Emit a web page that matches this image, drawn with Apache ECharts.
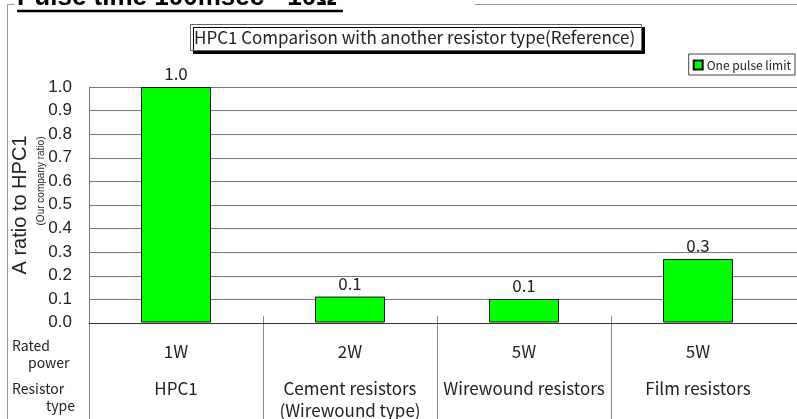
<!DOCTYPE html>
<html>
<head>
<meta charset="utf-8">
<script src="https://cdn.jsdelivr.net/npm/echarts@6/dist/echarts.min.js"></script>
<style>
  html, body { margin: 0; padding: 0; background: #fff; }
  #chart { width: 797px; height: 419px; }
</style>
</head>
<body>
<div id="chart"></div>
<script>
const categories = ['HPC1', 'Cement resistors\n(Wirewound type)', 'Wirewound resistors', 'Film resistors']
const ratedPower = ['1W', '2W', '5W', '5W']
const onePulseLimit = [1.0, 0.11, 0.10, 0.27]
const yMin = 0
const yMax = 1
const yStep = 0.1

const jp = '"Noto Sans CJK JP", "Noto Sans", sans-serif'
const sans = '"Liberation Sans", Arial, sans-serif'
const gridColor = '#777'

const myChart = echarts.init(document.getElementById('chart'))

const option = {
  animation: false,
  backgroundColor: '#fff',
  textStyle: { fontFamily: jp, color: '#222' },
  title: {
    text: 'HPC1 Comparison with another resistor type(Reference)',
    left: 190,
    top: 24,
    padding: [5, 6, 5, 4],
    backgroundColor: '#fff',
    borderColor: '#666',
    borderWidth: 1,
    shadowColor: '#000',
    shadowBlur: 0,
    shadowOffsetX: 3,
    shadowOffsetY: 3,
    textStyle: { fontFamily: jp, fontSize: 17, fontWeight: 'normal', color: '#222' }
  },
  legend: {
    right: 2,
    top: 54,
    orient: 'vertical',
    padding: [5, 4, 4, 4],
    borderColor: '#444',
    borderWidth: 1,
    itemWidth: 9,
    itemHeight: 9,
    itemGap: 4,
    icon: 'rect',
    textStyle: { fontFamily: jp, fontSize: 12, color: '#222', padding: [0, 0, 0, -1] },
    data: ['One pulse limit']
  },
  grid: [
    // background lines, run to the right edge
    { left: 89, right: 0, top: 87, bottom: 96 },
    // bars
    { left: 89, right: 12, top: 87, bottom: 96 },
    // table dividers below the axis
    { left: 89, right: 12, top: 316, bottom: 0 }
  ],
  xAxis: [
    {
      gridIndex: 0,
      type: 'category',
      data: categories,
      axisLine: { show: true, lineStyle: { color: '#333', width: 1 } },
      axisTick: { show: false },
      axisLabel: { show: false }
    },
    {
      gridIndex: 1,
      type: 'category',
      data: categories,
      axisLine: { show: false },
      axisTick: { show: false },
      axisLabel: {
        margin: 3,
        interval: 0,
        formatter: (val, i) => '{p|' + ratedPower[i] + '}\n{n|' + val + '}',
        rich: {
          p: { fontFamily: jp, fontSize: 17, color: '#222', lineHeight: 52 },
          n: { fontFamily: jp, fontSize: 17, color: '#222', lineHeight: 22 }
        }
      }
    },
    {
      gridIndex: 2,
      type: 'category',
      data: categories,
      axisLine: { show: false },
      axisTick: { show: false },
      axisLabel: { show: false },
      splitLine: {
        show: true,
        showMinLine: true,
        showMaxLine: false,
        lineStyle: { color: '#888', width: 1 }
      }
    }
  ],
  yAxis: [
    {
      gridIndex: 0,
      type: 'value',
      min: yMin,
      max: yMax,
      interval: yStep,
      axisLine: { show: true, lineStyle: { color: gridColor } },
      axisTick: { show: false },
      axisLabel: { show: false },
      splitLine: { show: true, lineStyle: { color: gridColor, width: 1 } }
    },
    {
      gridIndex: 1,
      type: 'value',
      min: yMin,
      max: yMax,
      interval: yStep,
      axisLine: { show: false },
      axisTick: { show: false },
      splitLine: { show: false },
      axisLabel: {
        margin: 17,
        fontFamily: sans,
        fontSize: 17,
        color: '#222',
        formatter: v => v.toFixed(1)
      }
    },
    { gridIndex: 2, type: 'value', show: false }
  ],
  series: [
    {
      name: 'One pulse limit',
      type: 'bar',
      xAxisIndex: 1,
      yAxisIndex: 1,
      data: onePulseLimit,
      barWidth: 70,
      itemStyle: { color: '#00ff00', borderColor: '#111', borderWidth: 1 },
      label: {
        show: true,
        position: 'top',
        distance: 5,
        fontFamily: jp,
        fontSize: 17,
        color: '#222',
        formatter: p => p.value.toFixed(1)
      }
    }
  ],
  graphic: [
    // outer frame
    { type: 'line', shape: { x1: 7.5, y1: 4.5, x2: 7.5, y2: 419 }, style: { stroke: '#999', lineWidth: 1 } },
    { type: 'line', shape: { x1: 7.5, y1: 4.5, x2: 14, y2: 4.5 }, style: { stroke: '#999', lineWidth: 1 } },
    { type: 'line', shape: { x1: 475, y1: 4.5, x2: 797, y2: 4.5 }, style: { stroke: '#999', lineWidth: 1 } },
    // heading, cut off at the top
    {
      type: 'text',
      x: 17,
      y: -2,
      style: {
        text: 'Pulse time 100msec - 10Ω',
        font: 'bold 26px "Liberation Sans", Arial, sans-serif',
        fill: '#000',
        verticalAlign: 'middle'
      }
    },
    { type: 'line', shape: { x1: 17, y1: 11, x2: 343, y2: 11 }, style: { stroke: '#000', lineWidth: 2.5 } },
    // y axis name
    {
      type: 'text',
      x: 20,
      y: 205,
      rotation: Math.PI / 2,
      style: {
        text: 'A ratio to HPC1',
        font: '20px "Liberation Sans", Arial, sans-serif',
        fill: '#222',
        align: 'center',
        verticalAlign: 'middle'
      }
    },
    {
      type: 'text',
      x: 41,
      y: 181,
      rotation: Math.PI / 2,
      style: {
        text: '(Our company ratio)',
        font: '10px "Liberation Sans", Arial, sans-serif',
        fill: '#222',
        align: 'center',
        verticalAlign: 'middle'
      }
    },
    // row headers of the table
    { type: 'text', x: 12, y: 346, style: { text: 'Rated', font: '14px ' + jp, fill: '#222', verticalAlign: 'middle' } },
    { type: 'text', x: 28, y: 363, style: { text: 'power', font: '14px ' + jp, fill: '#222', verticalAlign: 'middle' } },
    { type: 'text', x: 12, y: 389, style: { text: 'Resistor', font: '14px ' + jp, fill: '#222', verticalAlign: 'middle' } },
    { type: 'text', x: 46, y: 406, style: { text: 'type', font: '14px ' + jp, fill: '#222', verticalAlign: 'middle' } }
  ]
}

myChart.setOption(option)
window.addEventListener('resize', () => myChart.resize())
</script>
</body>
</html>
